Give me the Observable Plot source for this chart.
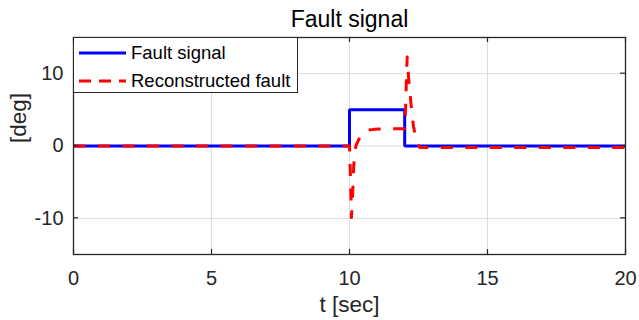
<!DOCTYPE html>
<html>
<head>
<meta charset="utf-8">
<script src="https://cdn.jsdelivr.net/npm/d3@7"></script>
<script src="https://cdn.jsdelivr.net/npm/@observablehq/plot@0.6"></script>
<style>
  html, body { margin: 0; padding: 0; background: #fff; }
  #wrap { position: relative; width: 639px; height: 320px; font-family: "Liberation Sans", Arial, Helvetica, sans-serif; }
  #legend { position: absolute; left: 73px; top: 37px; width: 225px; height: 56px; background: #fff; border: 1px solid #262626; box-sizing: border-box; }
</style>
</head>
<body>
<div id="wrap"></div>
<script>
// ---- data ----
const titleText = "Fault signal";
const xLabel = "t [sec]";
const yLabel = "[deg]";
const seriesNames = ["Fault signal", "Reconstructed fault"];
const xTicks = [0, 5, 10, 15, 20];
const yTicks = [-10, 0, 10];

const faultT = [0, 10, 10, 12, 12, 20];
const faultV = [0, 0, 5, 5, 0, 0];

const reconT = [0, 10, 10.04, 10.07, 10.11, 10.15, 10.2, 10.25, 10.3, 10.4, 10.5, 10.7, 10.9, 11.1, 11.5, 12.0, 12.03, 12.06, 12.09, 12.14, 12.2, 12.26, 12.32, 12.4, 12.46, 12.55, 13, 15, 20];
const reconV = [0, 0, -5, -9.9, -7, -3, -0.5, 0.2, 0.6, 1.4, 1.9, 2.2, 2.3, 2.35, 2.4, 2.4, 5, 9, 12.3, 9.5, 7, 4.5, 2.7, 1.2, 0.4, -0.2, -0.2, -0.2, -0.2];

const fault = faultT.map((t, i) => ({t, v: faultV[i]}));
const recon = reconT.map((t, i) => ({t, v: reconV[i]}));

const W = 639, H = 320;
const mL = 73, mR = 14, mT = 37, mB = 66;
const frameH = H - mT - mB;
const txt = "#262626";
const font = "Liberation Sans, Arial, Helvetica, sans-serif";
const fmt = d => String(d);

const chart = Plot.plot({
  width: W, height: H,
  marginLeft: mL, marginRight: mR, marginTop: mT, marginBottom: mB,
  style: {fontFamily: font, background: "#fff", color: txt},
  x: {domain: [0, 20]},
  y: {domain: [-15, 15]},
  marks: [
    Plot.gridX(xTicks, {stroke: "#dcdcdc", strokeOpacity: 1, strokeWidth: 1}),
    Plot.gridY(yTicks, {stroke: "#dcdcdc", strokeOpacity: 1, strokeWidth: 1}),
    Plot.axisX(xTicks, {tickSize: 0, tickPadding: 16, fontSize: 20, label: null, fill: txt, tickFormat: fmt}),
    Plot.axisY(yTicks, {tickSize: 0, tickPadding: 10, fontSize: 20, label: null, fill: txt, tickFormat: fmt}),
    Plot.line(fault, {x: "t", y: "v", stroke: "#0000ff", strokeWidth: 3, strokeLinejoin: "miter", strokeLinecap: "butt"}),
    Plot.line(recon, {x: "t", y: "v", stroke: "#ff0000", strokeWidth: 3, strokeDasharray: "12,12.5", strokeLinejoin: "round", strokeLinecap: "butt"}),
    Plot.tickX(xTicks, {x: d => d, stroke: txt, strokeWidth: 1.2, insetTop: frameH - 5}),
    Plot.tickX(xTicks, {x: d => d, stroke: txt, strokeWidth: 1.2, insetBottom: frameH - 5}),
    Plot.frame({stroke: txt, strokeWidth: 1.3}),
    Plot.text([titleText], {frameAnchor: "top", lineAnchor: "middle", dy: -18, fontSize: 23, fill: "#000"}),
    Plot.text([xLabel], {frameAnchor: "bottom", lineAnchor: "middle", dy: 50, fontSize: 22.5, fill: txt}),
    Plot.text([yLabel], {frameAnchor: "left", lineAnchor: "middle", dx: -55, dy: -3, rotate: -90, fontSize: 22.5, fill: txt})
  ]
});

const wrap = document.getElementById("wrap");
wrap.appendChild(chart);

// y inside ticks on left and right, positioned with the chart's own y scale
const ys = chart.scale("y");
const svg = d3.select(chart);
svg.append("g").selectAll("line").data(yTicks).join("line")
  .attr("x1", mL).attr("x2", mL + 5)
  .attr("y1", d => ys.apply(d)).attr("y2", d => ys.apply(d))
  .attr("stroke", txt).attr("stroke-width", 1.2);
svg.append("g").selectAll("line").data(yTicks).join("line")
  .attr("x1", W - mR).attr("x2", W - mR - 5)
  .attr("y1", d => ys.apply(d)).attr("y2", d => ys.apply(d))
  .attr("stroke", txt).attr("stroke-width", 1.2);

// legend
const leg = document.createElement("div");
leg.id = "legend";
leg.innerHTML = `<svg width="225" height="56" style="position:absolute;left:-1px;top:-1px;overflow:visible">
  <line x1="6" x2="53" y1="16" y2="16" stroke="#0000ff" stroke-width="3"/>
  <line x1="6" x2="53" y1="44" y2="44" stroke="#ff0000" stroke-width="3" stroke-dasharray="12,8"/>
  <text x="58" y="16" dy="0.35em" font-size="18.5" fill="#000" font-family="${font}">${seriesNames[0]}</text>
  <text x="58" y="44" dy="0.35em" font-size="18.5" fill="#000" font-family="${font}">${seriesNames[1]}</text>
</svg>`;
wrap.appendChild(leg);
</script>
</body>
</html>
